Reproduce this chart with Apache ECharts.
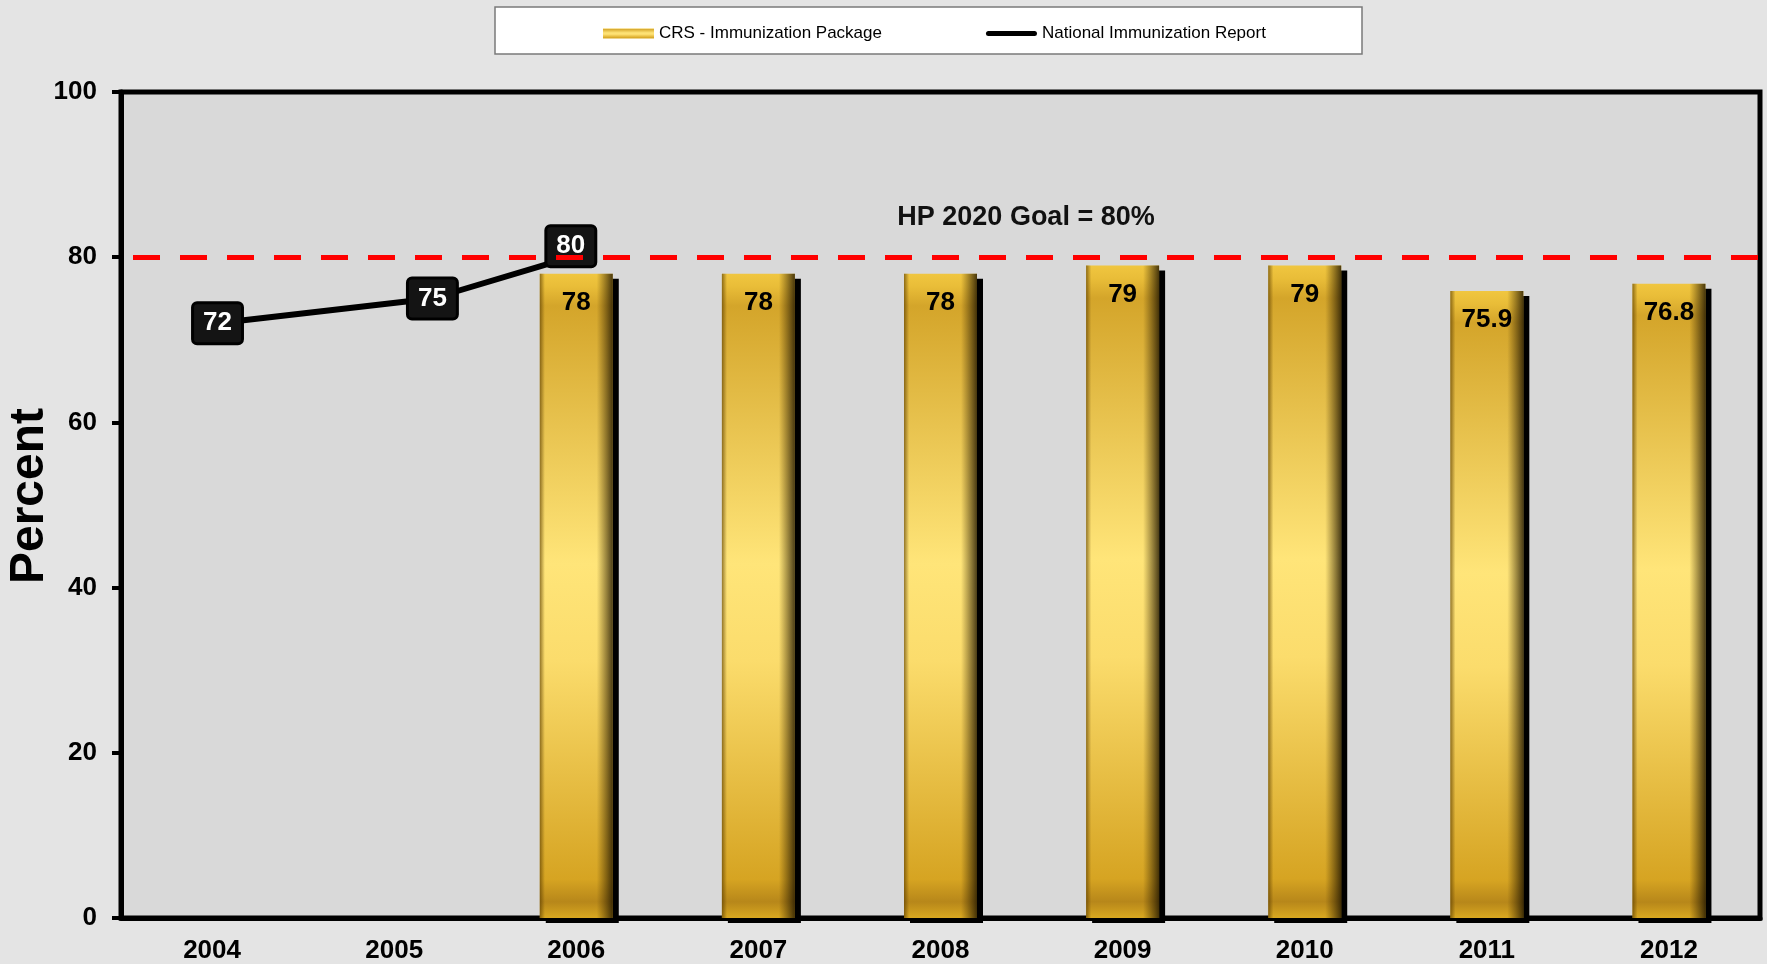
<!DOCTYPE html>
<html>
<head>
<meta charset="utf-8">
<script src="https://cdn.jsdelivr.net/npm/echarts@6/dist/echarts.min.js"></script>
<style>
  html, body { margin: 0; padding: 0; background: #e4e4e4; }
  #mychart { width: 1767px; height: 964px; }
</style>
</head>
<body>
<div id="mychart"></div>
<script>
  // categories and values
  var years = ['2004', '2005', '2006', '2007', '2008', '2009', '2010', '2011', '2012'];
  var crsValues = ['-', '-', 78, 78, 78, 79, 79, 75.9, 76.8];
  // national report points sit slightly off the category centres
  var nirYears = [2004.03, 2005.21, 2005.97];
  var nirValues = [72, 75, 80];
  var yTicks = [0, 20, 40, 60, 80, 100];
  var goal = 80;

  var font = 'Liberation Sans, Arial, sans-serif';

  var goldFill = new echarts.graphic.LinearGradient(0, 0, 0, 1, [
    { offset: 0, color: '#f0c640' },
    { offset: 0.02, color: '#e9bd38' },
    { offset: 0.05, color: '#d4a52a' },
    { offset: 0.45, color: '#ffe579' },
    { offset: 0.6, color: '#fbdc6c' },
    { offset: 0.94, color: '#d6a422' },
    { offset: 0.975, color: '#b7871a' },
    { offset: 1, color: '#d9a820' }
  ]);
  var edgeShade = new echarts.graphic.LinearGradient(0, 0, 1, 0, [
    { offset: 0, color: 'rgba(90,60,0,0.65)' },
    { offset: 0.07, color: 'rgba(90,60,0,0)' },
    { offset: 0.78, color: 'rgba(60,40,0,0)' },
    { offset: 1, color: 'rgba(30,20,0,0.8)' }
  ]);
  // thick rounded stroke for the line legend, padded to the 51x10 legend box
  var lineIcon = 'path://M0,0 L0,0 M51,10 L51,10 M2.5,2.5 L48.5,2.5 Q51,2.5 51,5 Q51,7.5 48.5,7.5 L2.5,7.5 Q0,7.5 0,5 Q0,2.5 2.5,2.5 Z';

  var nirData = nirYears.map(function (x, i) {
    var item = { value: [x, nirValues[i]] };
    if (nirValues[i] === goal) item.label = { offset: [0, -11] };
    return item;
  });

  var chart = echarts.init(document.getElementById('mychart'));
  chart.setOption({
    animation: false,
    backgroundColor: '#e4e4e4',
    textStyle: { fontFamily: font },
    graphic: [
      {
        type: 'rect', z: 0,
        shape: { x: 495, y: 7, width: 867, height: 47 },
        style: { fill: '#ffffff', stroke: '#7a7a7a', lineWidth: 1.5 }
      },
      {
        type: 'text', z: 10,
        x: 1026, y: 218,
        style: {
          text: 'HP 2020 Goal = 80%', fill: '#111', font: 'bold 27px ' + font,
          align: 'center', verticalAlign: 'middle'
        }
      },
      {
        type: 'text', z: 10,
        x: 30, y: 496, rotation: Math.PI / 2,
        style: {
          text: 'Percent', fill: '#000', font: 'bold 48px ' + font,
          align: 'center', verticalAlign: 'middle'
        }
      }
    ],
    legend: {
      left: 598, top: 20,
      itemWidth: 51, itemHeight: 10, itemGap: 104,
      textStyle: { fontSize: 17, color: '#000', fontFamily: font },
      data: [
        { name: 'CRS - Immunization Package', icon: 'rect' },
        { name: 'National Immunization Report', icon: lineIcon }
      ]
    },
    grid: {
      left: 121, right: 7, top: 92, bottom: 46,
      outerBoundsMode: 'none',
      show: true, backgroundColor: '#d9d9d9', borderColor: '#000', borderWidth: 5
    },
    xAxis: [
      {
        type: 'category',
        data: years,
        axisLine: { lineStyle: { color: '#000', width: 5 } },
        axisTick: { length: 10, lineStyle: { color: '#555', width: 1.5 } },
        axisLabel: { color: '#000', fontSize: 26, fontWeight: 'bold', margin: 20 }
      },
      {
        type: 'value', show: false, min: 2003.5, max: 2012.5
      }
    ],
    yAxis: {
      type: 'value', min: 0, max: 100, interval: 20,
      axisLine: { show: true, lineStyle: { color: '#000', width: 5 } },
      axisTick: { show: true, length: 9, lineStyle: { color: '#000', width: 4 } },
      axisLabel: {
        color: '#000', fontSize: 26, fontWeight: 'bold', margin: 24,
        formatter: function (v) { return yTicks.indexOf(v) >= 0 ? String(v) : ''; }
      },
      splitLine: { show: false }
    },
    series: [
      {
        name: 'CRS - Immunization Package',
        type: 'bar',
        barWidth: 73,
        data: crsValues,
        itemStyle: {
          color: goldFill,
          shadowColor: '#000', shadowOffsetX: 6, shadowOffsetY: 5, shadowBlur: 0
        },
        label: {
          show: true, position: 'insideTop', distance: 16,
          color: '#000', fontSize: 26, fontWeight: 'bold'
        },
        markLine: {
          silent: true, symbol: 'none', z: 10,
          label: { show: false },
          lineStyle: { color: '#ff0000', width: 5, type: [27, 20], dashOffset: -12 },
          data: [{ yAxis: goal }]
        }
      },
      {
        name: 'shade',
        type: 'bar',
        barWidth: 73,
        barGap: '-100%',
        silent: true,
        data: crsValues,
        itemStyle: { color: edgeShade }
      },
      {
        name: 'National Immunization Report',
        type: 'line',
        xAxisIndex: 1,
        data: nirData,
        symbol: 'circle',
        symbolSize: 1,
        showSymbol: true,
        color: '#000',
        itemStyle: { color: '#000' },
        lineStyle: { color: '#000', width: 6 },
        z: 3,
        label: {
          show: true, position: 'inside',
          color: '#fff', fontSize: 26, fontWeight: 'bold',
          backgroundColor: '#141414', borderColor: '#000', borderWidth: 3, borderRadius: 3,
          padding: [7, 9, 5, 9]
        }
      }
    ]
  });
</script>
</body>
</html>
